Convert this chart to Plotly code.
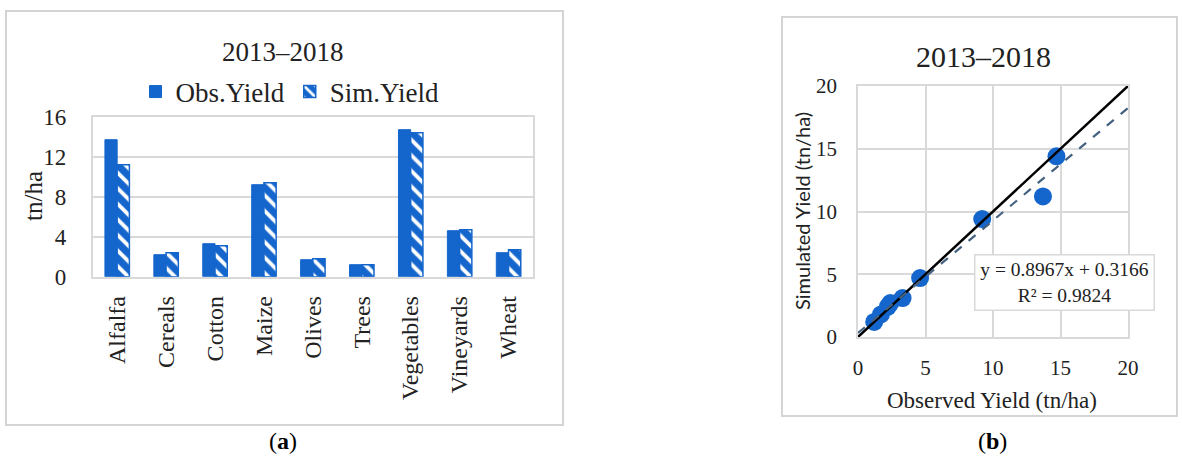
import plotly.graph_objects as go

# ---- data ----
crops = ["Alfalfa", "Cereals", "Cotton", "Maize", "Olives", "Trees",
         "Vegetables", "Vineyards", "Wheat"]
obs_yield = [13.7, 2.2, 3.3, 9.2, 1.7, 1.2, 14.7, 4.6, 2.4]
sim_yield = [11.2, 2.4, 3.1, 9.4, 1.8, 1.2, 14.4, 4.7, 2.7]

fit_slope = 0.8967
fit_intercept = 0.3166
fit_r2 = 0.9824
xy_range = [0, 20]

period = "2013–2018"

# ---- styling ----
W, H = 1182, 464
BLUE = "#1466CC"
GRID = "#D9D9D9"
FRAME = "#D4D4D4"
SERIF = "Liberation Serif"


def fx(p):
    return p / W


def fy(p):
    return 1 - p / H


fig = go.Figure()

# (a) grouped bar chart
fig.add_trace(go.Bar(
    x=crops, y=obs_yield, name="Obs.Yield",
    marker=dict(color=BLUE, line=dict(color=BLUE, width=1)),
    xaxis="x", yaxis="y",
))
fig.add_trace(go.Bar(
    x=crops, y=sim_yield, name="Sim.Yield",
    marker=dict(color=BLUE, line=dict(color=BLUE, width=1.5),
                pattern=dict(shape="\\", fgcolor="white", bgcolor=BLUE,
                             fgopacity=1, fillmode="replace",
                             size=11, solidity=0.35)),
    xaxis="x", yaxis="y",
))

# (b) observed vs simulated scatter
fig.add_trace(go.Scatter(
    x=obs_yield, y=sim_yield, mode="markers", showlegend=False,
    marker=dict(color=BLUE, size=18),
    xaxis="x2", yaxis="y2",
))
fig.add_trace(go.Scatter(
    x=xy_range, y=xy_range, mode="lines", showlegend=False,
    line=dict(color="black", width=2.5),
    xaxis="x2", yaxis="y2",
))
fig.add_trace(go.Scatter(
    x=xy_range, y=[fit_slope * v + fit_intercept for v in xy_range],
    mode="lines", showlegend=False,
    line=dict(color="#44617F", width=2.2, dash="dash"),
    xaxis="x2", yaxis="y2",
))

axis_common = dict(showline=True, linecolor=GRID, linewidth=1.5, mirror=True,
                   zeroline=False, ticks="", fixedrange=True, automargin=False)

fig.update_layout(
    width=W, height=H,
    margin=dict(l=0, r=0, t=0, b=0, autoexpand=False),
    paper_bgcolor="white", plot_bgcolor="white",
    font=dict(family=SERIF, color="#222222"),
    barmode="group", bargap=0.5, bargroupgap=0.0,
    xaxis=dict(domain=[fx(92.7), fx(533)], anchor="y",
               tickangle=-90, tickfont=dict(size=24),
               ticklabelstandoff=8, showgrid=False, **axis_common),
    yaxis=dict(domain=[fy(276.7), fy(116.7)], anchor="x",
               range=[0, 16], dtick=4, tickfont=dict(size=23),
               ticklabelstandoff=20, showgrid=True, gridcolor=GRID,
               gridwidth=1.5, **axis_common),
    xaxis2=dict(domain=[fx(858), fx(1128)], anchor="y2",
                range=xy_range, dtick=5, tickfont=dict(size=21),
                ticklabelstandoff=11, showgrid=True, gridcolor=GRID,
                gridwidth=1.5, **axis_common),
    yaxis2=dict(domain=[fy(337), fy(86)], anchor="x2",
                range=xy_range, dtick=5, tickfont=dict(size=21),
                ticklabelstandoff=15, showgrid=True, gridcolor=GRID,
                gridwidth=1.5, **axis_common),
    legend=dict(orientation="h", x=fx(290), y=fy(92), xanchor="center",
                yanchor="middle", font=dict(size=27), itemwidth=30,
                bgcolor="rgba(0,0,0,0)"),
    shapes=[
        dict(type="rect", xref="paper", yref="paper",
             x0=fx(6), x1=fx(563), y0=fy(425), y1=fy(11),
             line=dict(color=FRAME, width=2)),
        dict(type="rect", xref="paper", yref="paper",
             x0=fx(782), x1=fx(1177), y0=fy(416), y1=fy(17),
             line=dict(color=FRAME, width=2)),
    ],
    annotations=[
        dict(text=period, xref="paper", yref="paper", x=fx(283), y=fy(52),
             showarrow=False, font=dict(size=27), xanchor="center", yanchor="middle"),
        dict(text="tn/ha", xref="paper", yref="paper", x=fx(33), y=fy(196),
             showarrow=False, textangle=-90, font=dict(size=25),
             xanchor="center", yanchor="middle"),
        dict(text=period, xref="paper", yref="paper", x=fx(983), y=fy(57),
             showarrow=False, font=dict(size=30), xanchor="center", yanchor="middle"),
        dict(text="Simulated Yield (tn/ha)", xref="paper", yref="paper",
             x=fx(802), y=fy(211), showarrow=False, textangle=-90,
             font=dict(size=20, family="Lato"), xanchor="center", yanchor="middle"),
        dict(text="Observed Yield (tn/ha)", xref="paper", yref="paper",
             x=fx(992), y=fy(400), showarrow=False, font=dict(size=23),
             xanchor="center", yanchor="middle"),
        dict(text=f"y = {fit_slope}x + {fit_intercept}<br>R² = {fit_r2}",
             xref="paper", yref="paper", x=fx(1064.5), y=fy(282),
             showarrow=False, font=dict(size=19.5), align="center",
             xanchor="center", yanchor="middle",
             bgcolor="white", bordercolor=GRID, borderwidth=1.5,
             width=176, height=52),
        dict(text="(<b>a</b>)", xref="paper", yref="paper", x=fx(283), y=fy(441),
             showarrow=False, font=dict(size=24, color="black"),
             xanchor="center", yanchor="middle"),
        dict(text="(<b>b</b>)", xref="paper", yref="paper", x=fx(992), y=fy(441),
             showarrow=False, font=dict(size=24, color="black"),
             xanchor="center", yanchor="middle"),
    ],
)

fig.write_html("out.html", config=dict(displayModeBar=False))
